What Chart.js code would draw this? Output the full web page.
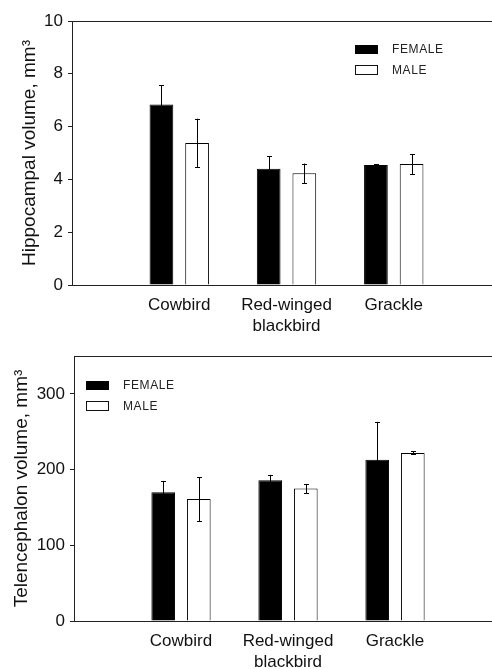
<!DOCTYPE html>
<html>
<head>
<meta charset="utf-8">
<script src="https://cdn.jsdelivr.net/npm/chart.js@4.4.0/dist/chart.umd.min.js"></script>
<style>
    html, body { margin: 0; padding: 0; background: #fff; overflow: hidden; }
    canvas { position: absolute; left: 0; display: block; }
    #hippoChart { top: 0; }
    #telChart { top: 340px; }
</style>
</head>
<body>
<!-- canvases are a little wider than the window: the frame runs off the right edge -->
<canvas id="hippoChart" width="511" height="340"></canvas>
<canvas id="telChart" width="512" height="329"></canvas>
<script>
// Species (blank slots at the ends keep the groups away from the frame)
const categories = ['Cowbird', ['Red-winged', 'blackbird'], 'Grackle'];
const seriesNames = ['FEMALE', 'MALE'];

// Hippocampal volume, mm3
const hippoFemale = [6.84, 4.40, 4.55];
const hippoMale = [5.38, 4.23, 4.58];
const hippoFemaleErr = [0.72, 0.48, 0.03];
const hippoMaleErr = [0.92, 0.37, 0.38];
const hippoTicks = [0, 2, 4, 6, 8, 10];

// Telencephalon volume, mm3
const telFemale = [170, 186, 213];
const telMale = [161, 175, 222];
const telFemaleErr = [15, 7, 50];
const telMaleErr = [29, 6, 2];
const telTicks = [0, 100, 200, 300];

const FONT = '"Liberation Sans", Arial, Helvetica, sans-serif';

function pad(arr) {
    return [null, ...arr, null];
}

// Error bars + frame top line + inside legend
const extrasPlugin = {
    id: 'extras',
    afterDatasetsDraw(chart, args, opts) {
        const ctx = chart.ctx;
        const yScale = chart.scales.y;
        ctx.save();
        ctx.strokeStyle = '#000';
        ctx.lineWidth = 1;
        chart.data.datasets.forEach((ds, di) => {
            const meta = chart.getDatasetMeta(di);
            meta.data.forEach((bar, i) => {
                const v = ds.data[i];
                const e = ds.errors[i];
                if (v == null || e == null) return;
                const x = Math.round(bar.x) + 0.5;
                const yTop = yScale.getPixelForValue(v + e);
                const yBot = yScale.getPixelForValue(v - e);
                ctx.beginPath();
                ctx.moveTo(x, yTop);
                ctx.lineTo(x, yBot);
                ctx.moveTo(x - 2.5, Math.round(yTop) + 0.5);
                ctx.lineTo(x + 2.5, Math.round(yTop) + 0.5);
                ctx.moveTo(x - 2.5, Math.round(yBot) + 0.5);
                ctx.lineTo(x + 2.5, Math.round(yBot) + 0.5);
                ctx.stroke();
            });
        });

        // top line of the frame
        const area = chart.chartArea;
        ctx.strokeStyle = '#222';
        ctx.beginPath();
        ctx.moveTo(area.left, Math.round(area.top) + 0.5);
        ctx.lineTo(chart.width, Math.round(area.top) + 0.5);
        ctx.stroke();

        // legend
        const lx = opts.x, ly = opts.y;
        ctx.fillStyle = '#000';
        ctx.fillRect(lx, ly, 23, 9);
        ctx.strokeStyle = '#111';
        ctx.strokeRect(lx + 0.5, ly + 20.5, 22, 9);
        ctx.font = '12px ' + FONT;
        ctx.letterSpacing = '0.6px';
        ctx.textBaseline = 'middle';
        ctx.fillStyle = '#222';
        ctx.fillText(seriesNames[0], lx + 37, ly + 4.5);
        ctx.fillText(seriesNames[1], lx + 37, ly + 25.5);
        ctx.restore();
    }
};

function makeChart(id, female, male, femaleErr, maleErr, ticks, yMax, title, cfg) {
    const ctx = document.getElementById(id);
    return new Chart(ctx, {
        type: 'bar',
        data: {
            labels: ['', ...categories, ''],
            datasets: [
                {
                    label: seriesNames[0],
                    data: pad(female),
                    errors: pad(femaleErr),
                    backgroundColor: '#000',
                    borderColor: '#000',
                    borderWidth: 1,
                    categoryPercentage: 0.665,
                    barPercentage: 0.665
                },
                {
                    label: seriesNames[1],
                    data: pad(male),
                    errors: pad(maleErr),
                    backgroundColor: '#fff',
                    borderColor: '#000',
                    borderWidth: 1,
                    categoryPercentage: 0.665,
                    barPercentage: 0.665
                }
            ]
        },
        options: {
            responsive: false,
            animation: false,
            devicePixelRatio: 1,
            layout: {
                padding: { top: cfg.top, left: 0, right: 0, bottom: 0 }
            },
            plugins: {
                legend: { display: false },
                tooltip: { enabled: false },
                extras: { x: cfg.legendX, y: cfg.legendY }
            },
            scales: {
                x: {
                    offset: false,
                    grid: { display: false, drawTicks: false },
                    border: { display: true, color: '#222', width: 1 },
                    ticks: {
                        color: '#111',
                        padding: 10,
                        maxRotation: 0,
                        autoSkip: false,
                        font: { family: FONT, size: 17, lineHeight: 1.24 }
                    },
                    afterFit: function (scale) { scale.height = cfg.xHeight; }
                },
                y: {
                    min: 0,
                    max: yMax,
                    afterBuildTicks: function (scale) {
                        scale.ticks = ticks.map(v => ({ value: v }));
                    },
                    grid: {
                        display: true,
                        drawOnChartArea: false,
                        drawTicks: true,
                        tickLength: 4,
                        color: '#222'
                    },
                    border: { display: true, color: '#222', width: 1 },
                    ticks: {
                        color: '#111',
                        padding: 5,
                        font: { family: FONT, size: 17 }
                    },
                    title: {
                        display: true,
                        text: title,
                        color: '#111',
                        padding: { top: cfg.titlePad, bottom: 0 },
                        font: { family: FONT, size: 19 }
                    },
                    afterFit: function (scale) { scale.width = cfg.yWidth; }
                }
            }
        },
        plugins: [extrasPlugin]
    });
}

makeChart('hippoChart', hippoFemale, hippoMale, hippoFemaleErr, hippoMaleErr, hippoTicks, 10,
    'Hippocampal volume, mm\u00B3',
    { top: 21, xHeight: 55, yWidth: 72, titlePad: 18, legendX: 355, legendY: 45 });

makeChart('telChart', telFemale, telMale, telFemaleErr, telMaleErr, telTicks, 350,
    'Telencephalon volume, mm\u00B3',
    { top: 16, xHeight: 48, yWidth: 74, titlePad: 10, legendX: 86, legendY: 381 - 340 });
</script>
</body>
</html>
